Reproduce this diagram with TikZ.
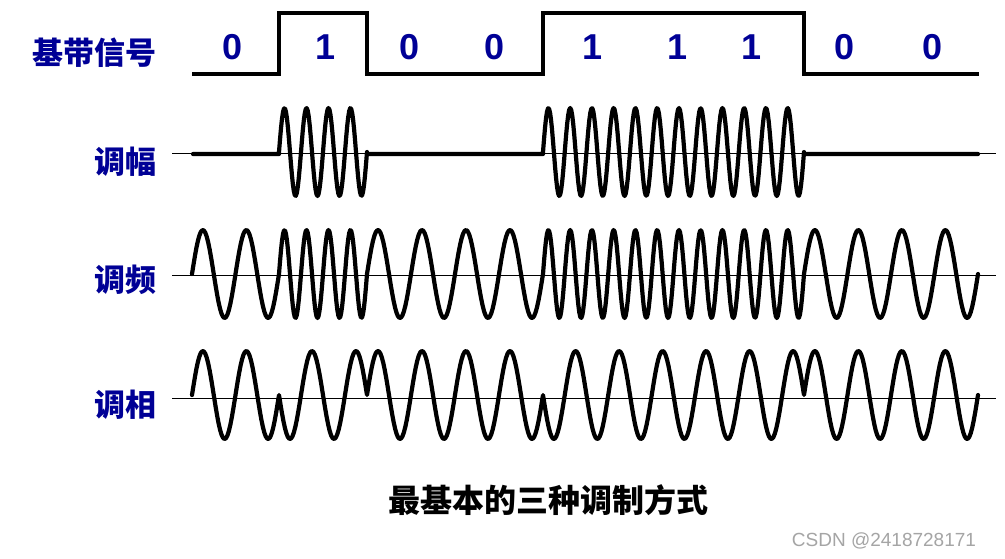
\documentclass[tikz,border=0pt]{standalone}
\usepackage{fontspec}
\setmainfont{Liberation Sans}
\newfontfamily\cjk{Noto Sans CJK SC}
\definecolor{navy}{RGB}{0,0,150}
\definecolor{wm}{RGB}{165,165,165}
\begin{document}
\begin{tikzpicture}[x=1pt,y=-1pt,
  sig/.style={line width=3.5pt, line join=miter},
  wave/.style={line width=4.2pt, line join=round, line cap=round},
  axisline/.style={line width=1pt},
  lab/.style={text=navy, font=\cjk\bfseries\fontsize{31}{31}\selectfont, anchor=east, inner sep=0pt},
  dig/.style={text=navy, font=\bfseries\fontsize{36}{36}\selectfont, inner sep=0pt}]
\useasboundingbox[fill=white] (0,0) rectangle (1005,558);

% labels
\node[lab] (lbase) at (157,53) {基带信号};
\node[lab] (lam) at (157,162) {调幅};
\node[lab] (lfm) at (157,280) {调频};
\node[lab] (lpm) at (157,405) {调相};

% baseband
\draw[sig] (192,74) -- (279,74) -- (279,13) -- (367,13) -- (367,74) -- (543,74) -- (543,13) -- (804,13) -- (804,74) -- (979,74);
\foreach \n/\x/\b in {d1/233/0,d2/326/1,d3/410/0,d4/495/0,d5/593/1,d6/678/1,d7/752/1,d8/845/0,d9/933/0}
  \node[dig] (\n) at (\x,47) {\b};

% axes
\coordinate (amL) at (172,153); \coordinate (amR) at (996,153);
\coordinate (fmL) at (172,275); \coordinate (fmR) at (996,275);
\coordinate (pmL) at (172,398); \coordinate (pmR) at (996,398);
\draw[axisline] (amL) -- (amR);
\draw[axisline] (fmL) -- (fmR);
\draw[axisline] (pmL) -- (pmR);

% AM
\draw[wave] (193,154) -- (279,154)
  -- plot[domain=279:367,samples=90] (\x,{152-44*sin(((\x-279)/88)*1440)})
  -- (367,154) -- (543,154)
  -- plot[domain=543:804,samples=260] (\x,{152-44*sin(((\x-543)/261)*4320)})
  -- (804,154) -- (978,154);

% FM
\draw[wave] plot[domain=192:279,samples=60] (\x,{274-44*sin(((\x-192)/87)*720)})
  -- plot[domain=279:367,samples=90] (\x,{274-44*sin(((\x-279)/88)*1440)})
  -- plot[domain=367:543,samples=120] (\x,{274-44*sin(((\x-367)/176)*1440)})
  -- plot[domain=543:804,samples=260] (\x,{274-44*sin(((\x-543)/261)*4320)})
  -- plot[domain=804:978,samples=120] (\x,{274-44*sin(((\x-804)/174)*1440)});

% PM
\draw[wave] plot[domain=192:279,samples=60] (\x,{395-44*sin(((\x-192)/87)*720)})
  -- plot[domain=279:367,samples=60] (\x,{395+44*sin(((\x-279)/88)*720)})
  -- plot[domain=367:543,samples=120] (\x,{395-44*sin(((\x-367)/176)*1440)})
  -- plot[domain=543:804,samples=180] (\x,{395+44*sin(((\x-543)/261)*2160)})
  -- plot[domain=804:978,samples=120] (\x,{395-44*sin(((\x-804)/174)*1440)});

% caption and watermark
\node[font=\cjk\bfseries\fontsize{32}{32}\selectfont, inner sep=0pt] (cap) at (548,500) {最基本的三种调制方式};
\node[font=\fontsize{19}{19}\selectfont, text=wm, inner sep=0pt] (wmk) at (884,541) {CSDN @2418728171};
\end{tikzpicture}
\end{document}
